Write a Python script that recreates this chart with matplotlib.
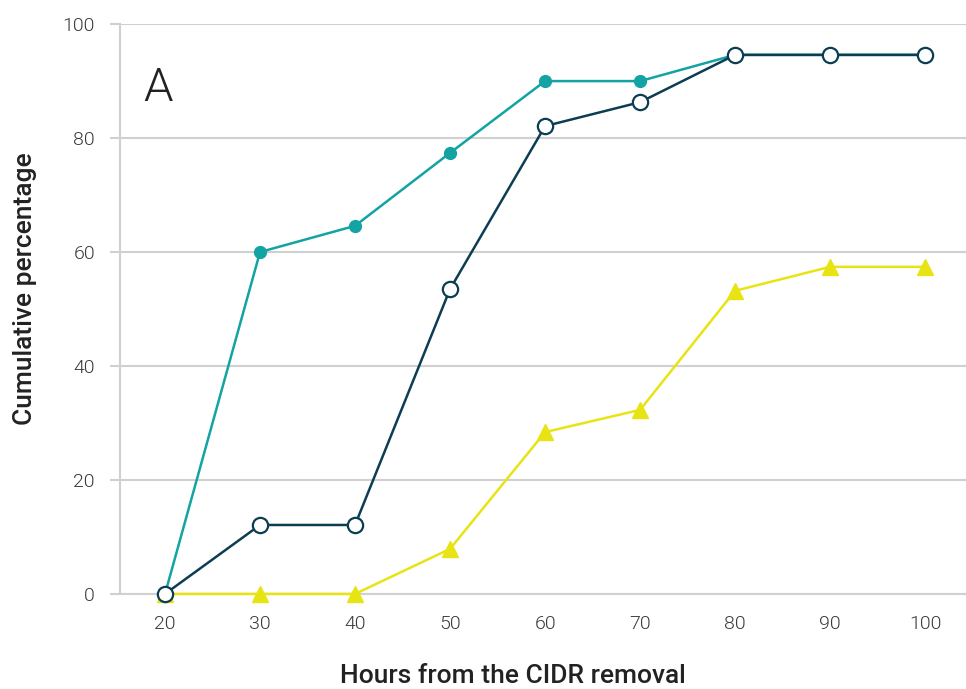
import matplotlib.pyplot as plt

hours = [20, 30, 40, 50, 60, 70, 80, 90, 100]
teal_vals = [0, 60.0, 64.6, 77.4, 90.0, 90.0, 94.6, 94.6, 94.6]
navy_vals = [0, 12.1, 12.1, 53.5, 82.1, 86.3, 94.6, 94.6, 94.6]
yellow_vals = [0, 0, 0, 7.9, 28.4, 32.3, 53.2, 57.4, 57.4]
yticks = [0, 20, 40, 60, 80, 100]

grid_col = "#d0d0d0"
teal = "#14a3a3"
navy = "#0d3d52"
yellow = "#e8e414"

fig = plt.figure(figsize=(9.66, 6.89), dpi=100)
ax = fig.add_axes([0.1242, 0.138, 0.8758, 0.827])

ax.plot(hours, yellow_vals, color=yellow, lw=1.8, marker="^", ms=11,
        mec=yellow, mfc=yellow, clip_on=False, zorder=3)
ax.plot(hours, teal_vals, color=teal, lw=1.8, marker="o", ms=8.5,
        mec=teal, mfc=teal, clip_on=False, zorder=4)
ax.plot(hours, navy_vals, color=navy, lw=1.8, marker="o", ms=11,
        mec=navy, mfc="white", mew=1.6, clip_on=False, zorder=5)

ax.set_xlim(15.26, 104.3)
ax.set_ylim(0, 100)
ax.set_xticks(hours)
ax.set_yticks(yticks)

ax.grid(axis="y", color=grid_col, lw=1.5, zorder=0)
for s in ["top", "right"]:
    ax.spines[s].set_visible(False)
ax.spines["left"].set_color(grid_col)
ax.spines["left"].set_linewidth(1.5)
ax.spines["bottom"].set_color(grid_col)
ax.spines["bottom"].set_linewidth(1.5)

ax.tick_params(axis="y", length=7, width=1.5, color=grid_col, pad=11,
               labelsize=14, labelcolor="#3a3a3a")
ax.tick_params(axis="x", length=0, pad=15, labelsize=14, labelcolor="#3a3a3a")
for lbl in ax.get_xticklabels() + ax.get_yticklabels():
    lbl.set_fontfamily("Roboto")
    lbl.set_fontweight(300)

ax.set_xlabel("Hours from the CIDR removal", fontsize=19, family="Roboto",
              fontweight=500, color="#222222", va="baseline")
ax.set_ylabel("Cumulative percentage", fontsize=19, family="Roboto",
              fontweight=500, color="#222222", va="center")
ax.yaxis.set_label_coords(-0.112, 0.535)
ax.xaxis.set_label_coords(0.464, -0.157)

ax.text(19.26, 88.8, "A", fontsize=34, family="Roboto", fontweight=300,
        color="#222222", va="center", ha="center")

fig.savefig("out.png", dpi=100)
